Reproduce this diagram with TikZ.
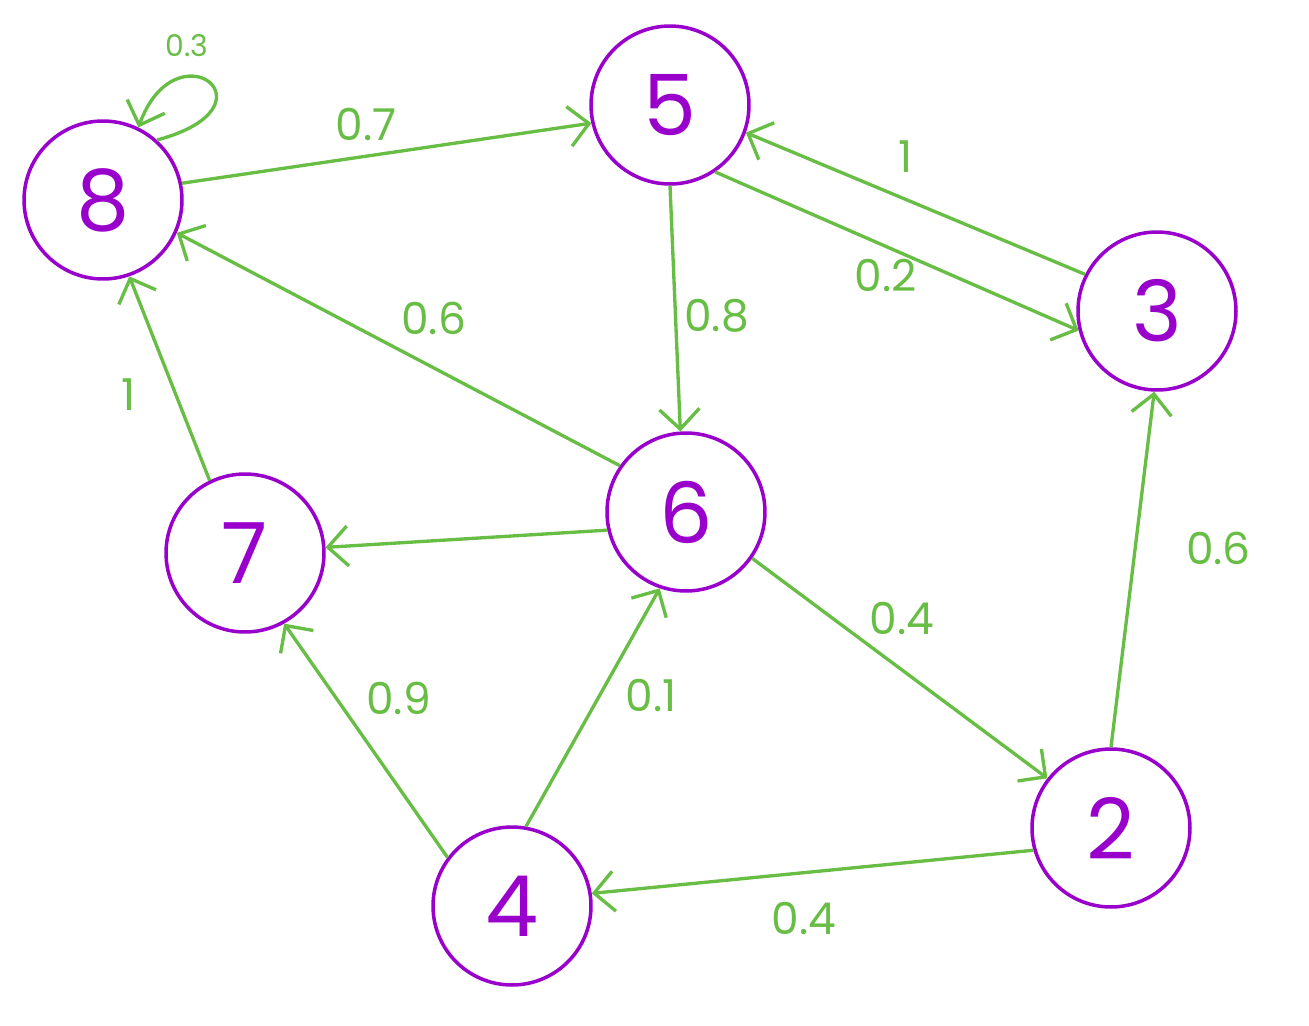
\documentclass[tikz,border=0pt]{standalone}
\usepackage{fontspec}
\setmainfont{Poppins}
\usepackage{tikz}
\usetikzlibrary{arrows.meta, positioning}
\definecolor{graphpurple}{RGB}{153, 0, 204}
\definecolor{graphgreen}{RGB}{104, 189, 69}

\begin{document}
\begin{tikzpicture}[x=0.02cm, y=0.02cm,
  vertex/.style={circle, draw=graphpurple, line width=2pt, text=graphpurple,
    minimum size=3.16cm, inner sep=0pt, font=\fontsize{48}{52}\selectfont},
  flow/.style={-{Straight Barb[length=4mm, width=8mm]}, line width=1.9pt,
    draw=graphgreen},
  wlabel/.style={text=graphgreen, font=\fontsize{25}{28}\selectfont, inner sep=2pt}
]
  \useasboundingbox (0,-1025) rectangle (1309,0);

  \node[vertex] (n8) at (103,-200) {8};
  \node[vertex] (n5) at (670,-105) {5};
  \node[vertex] (n3) at (1157,-311) {3};
  \node[vertex] (n6) at (686,-512) {6};
  \node[vertex] (n7) at (245,-553) {7};
  \node[vertex] (n2) at (1111,-828) {2};
  \node[vertex] (n4) at (512,-906) {4};

  \draw[flow] (n8.12) -- node[wlabel, pos=.45, above=6pt] {0.7} (n5.193);
  \draw[flow] (n3.153) -- node[wlabel, pos=.53, above=12pt] {1} (n5.-20);
  \draw[flow] (n5.-56) -- node[wlabel, pos=.47, below=4pt] {0.2} (n3.194);
  \draw[flow] (n5.-90) -- node[wlabel, pos=.53, right=2pt] {0.8} (n6.94);
  \draw[flow] (n6.145) -- node[wlabel, pos=.42, above=16pt] {0.6} (n8.-24);
  \draw[flow] (n7.116) -- node[wlabel, pos=.42, left=20pt] {1} (n8.-71);
  \draw[flow] (n6.193) -- (n7.4);
  \draw[flow] (n6.-35) -- node[wlabel, pos=.5, above right=16pt and -20pt] {0.4} (n2.142);
  \draw[flow] (n2.90) -- node[wlabel, pos=.56, right=26pt] {0.6} (n3.-92);
  \draw[flow] (n4.143) -- node[wlabel, pos=.68, right=14pt] {0.9} (n7.-61);
  \draw[flow] (n4.80) -- node[wlabel, pos=.55, right=12pt] {0.1} (n6.251);
  \draw[flow] (n2.196) -- node[wlabel, pos=.52, below=14pt] {0.4} (n4.9);
  \draw[flow] (n8.48) .. controls +(15:2.6cm) and +(70:2.2cm) .. (n8.64)
    node[wlabel, font=\fontsize{17}{19}\selectfont] at (187,-46) {0.3};
\end{tikzpicture}
\end{document}
